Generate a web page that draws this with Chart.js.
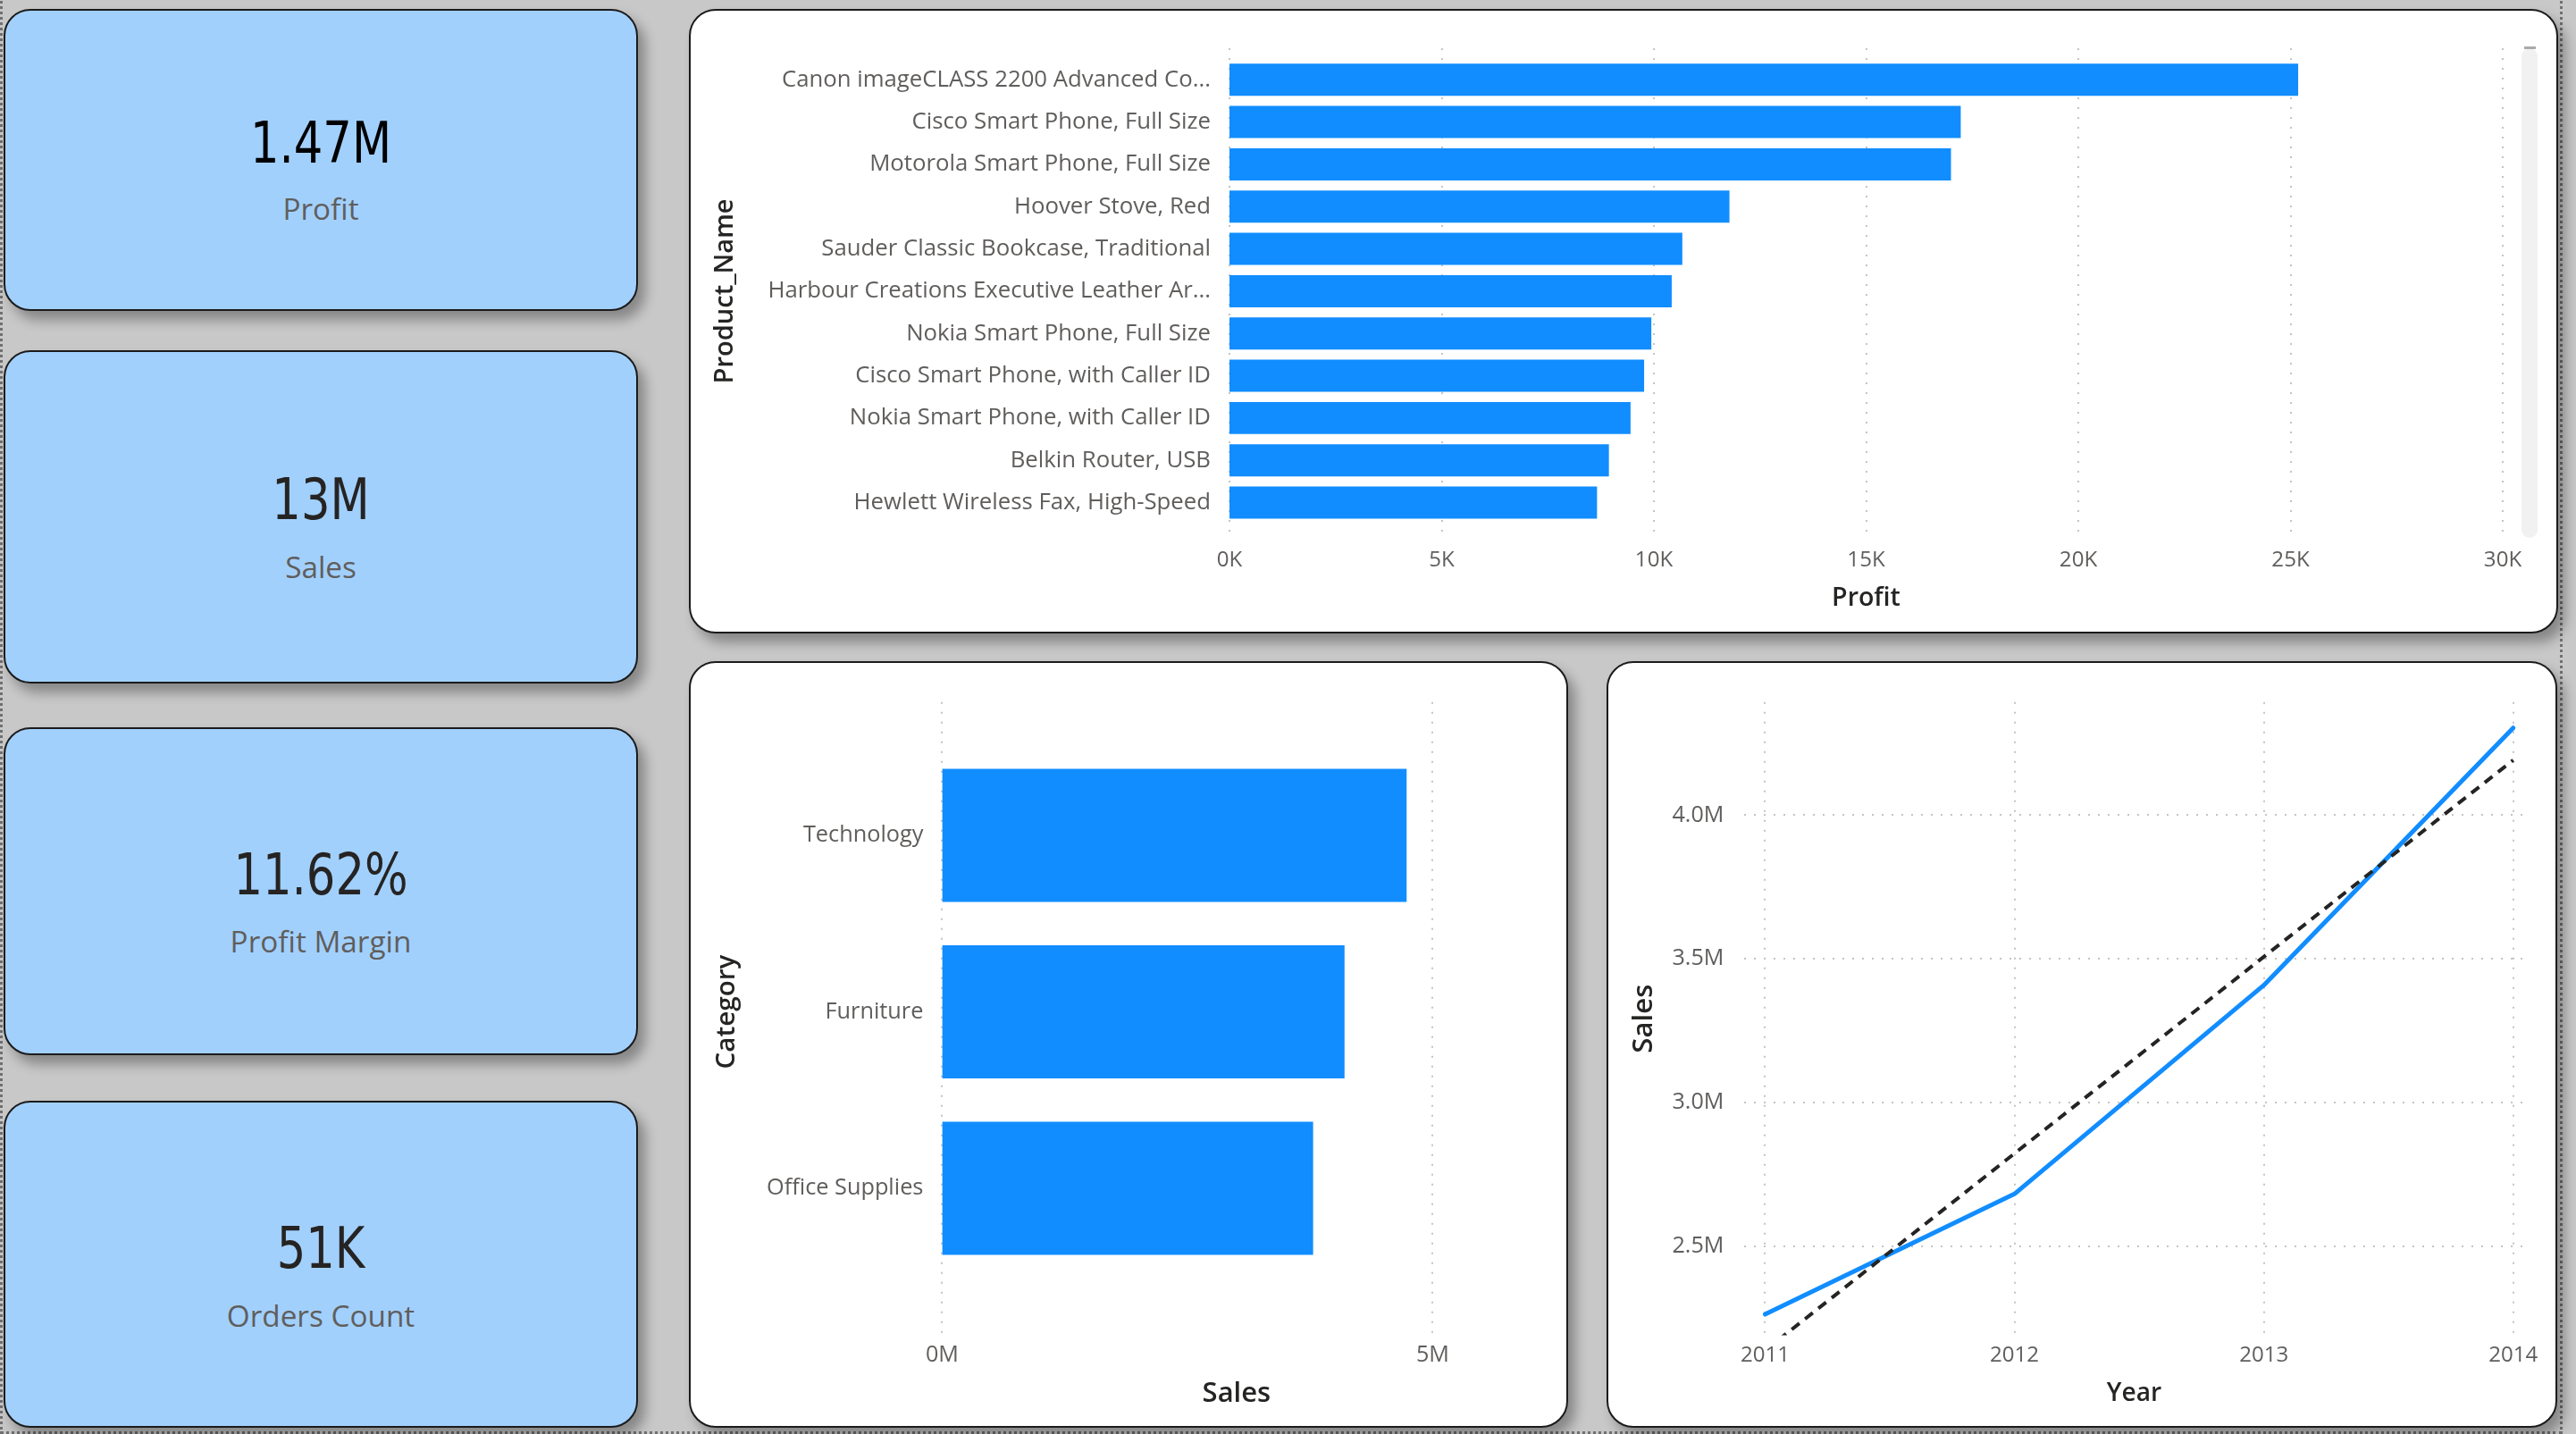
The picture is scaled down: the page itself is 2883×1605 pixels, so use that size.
<!DOCTYPE html>
<html>
<head>
<meta charset="utf-8">
<script src="https://cdn.jsdelivr.net/npm/chart.js@4.4.0/dist/chart.umd.min.js"></script>
<style>
html,body{margin:0;padding:0}
body{width:2883px;height:1605px;background:#c8c8c8;position:relative;overflow:hidden;font-family:'Open Sans',sans-serif}
.frame{position:absolute;left:0;top:-10px;width:2868px;height:1615px;box-sizing:border-box;border:3px dotted #707070}
.box{position:absolute;box-sizing:border-box;border:2px solid #1b1b1b;border-radius:30px;box-shadow:8px 10px 14px rgba(0,0,0,0.33)}
.card{background:#a2d0fd}
.panel{background:#ffffff}
.kv{position:absolute;text-align:center;font-family:'DejaVu Sans',sans-serif;font-size:64px;line-height:64px;height:64px;color:#222222;transform:scaleX(0.8);white-space:nowrap}
.kl{position:absolute;text-align:center;font-family:'Open Sans',sans-serif;color:#605e5c;white-space:nowrap}
canvas{position:absolute}
.scroll{position:absolute;left:2822px;top:54px;width:18px;height:548px;background:#f1f1f1;border-radius:9px}
.thumb{position:absolute;left:2825px;top:52px;width:13px;height:3px;background:#aaaaaa}
</style>
</head>
<body>
<div class="frame"></div>
<script>
// ---------- data ----------
const kpiValues = ['1.47M', '13M', '11.62%', '51K'];
const kpiLabels = ['Profit', 'Sales', 'Profit Margin', 'Orders Count'];

const productNames = [
  'Canon imageCLASS 2200 Advanced Co...',
  'Cisco Smart Phone, Full Size',
  'Motorola Smart Phone, Full Size',
  'Hoover Stove, Red',
  'Sauder Classic Bookcase, Traditional',
  'Harbour Creations Executive Leather Ar...',
  'Nokia Smart Phone, Full Size',
  'Cisco Smart Phone, with Caller ID',
  'Nokia Smart Phone, with Caller ID',
  'Belkin Router, USB',
  'Hewlett Wireless Fax, High-Speed'
];
const productProfit = [25180, 17230, 17000, 11780, 10670, 10420, 9940, 9770, 9450, 8940, 8660];
const profitTicks = [0, 5000, 10000, 15000, 20000, 25000, 30000];

const categories = ['Technology', 'Furniture', 'Office Supplies'];
const categorySales = [4734000, 4101000, 3781000];
const categoryTicks = [0, 5000000];
const categoryAxisMax = 6000000;

const years = [2011, 2012, 2013, 2014];
const yearSales = [2262000, 2681000, 3408000, 4304000];
const yearTrend = [2136000, 2822000, 3507000, 4192000];
const salesTicks = [2500000, 3000000, 3500000, 4000000];

// ---------- layout ----------
const cardBoxes = [[4, 10, 710, 338], [4, 392, 710, 373], [4, 814, 710, 367], [4, 1232, 710, 366]];
const valueBaselines = [181.7, 581.6, 1001.2, 1419.6];
const labelBaselines = [246.7, 648, 1067, 1485.3];

const mctx = document.createElement('canvas').getContext('2d');
function fit(text, target, weight) {
  mctx.font = (weight || 400) + ' 100px "Open Sans"';
  return +(100 * target / mctx.measureText(text).width).toFixed(2);
}

function addDiv(cls, x, y, w, h) {
  const d = document.createElement('div');
  d.className = cls;
  Object.assign(d.style, {left: x + 'px', top: y + 'px', width: w + 'px', height: h + 'px'});
  document.body.appendChild(d);
  return d;
}

const labelSize = fit('Orders Count', 210.5);
cardBoxes.forEach((b, i) => {
  addDiv('box card', b[0], b[1], b[2], b[3]);
  const v = document.createElement('div');
  v.className = 'kv';
  v.textContent = kpiValues[i];
  Object.assign(v.style, {left: b[0] + 'px', width: b[2] + 'px', top: (valueBaselines[i] - 0.846 * 64) + 'px', color: i === 0 ? '#000000' : '#252423'});
  document.body.appendChild(v);
  const l = document.createElement('div');
  l.className = 'kl';
  l.textContent = kpiLabels[i];
  Object.assign(l.style, {left: b[0] + 'px', width: b[2] + 'px', fontSize: labelSize + 'px', lineHeight: labelSize + 'px', height: labelSize + 'px', top: (labelBaselines[i] - 0.888 * labelSize) + 'px'});
  document.body.appendChild(l);
});

addDiv('box panel', 771, 10, 2092, 699);
addDiv('box panel', 771, 740, 984, 858);
addDiv('box panel', 1798, 740, 1064, 858);
addDiv('scroll', 2822, 54, 18, 548);
addDiv('thumb', 2825, 52, 13, 3);

function makeCanvas(x, y, w, h) {
  const c = document.createElement('canvas');
  c.width = w; c.height = h;
  Object.assign(c.style, {left: x + 'px', top: y + 'px', width: w + 'px', height: h + 'px'});
  document.body.appendChild(c);
  return c.getContext('2d');
}

const dottedGrid = {
  id: 'dottedGrid',
  beforeDatasetsDraw(chart, args, o) {
    const ctx = chart.ctx, a = chart.chartArea;
    ctx.save();
    ctx.strokeStyle = '#c4c4c4';
    ctx.lineWidth = 2;
    ctx.setLineDash([2, 9]);
    (o.v || []).forEach(id => {
      const s = chart.scales[id];
      s.ticks.forEach(t => {
        const x = Math.round(s.getPixelForValue(t.value));
        ctx.beginPath();
        ctx.moveTo(x, a.top - (o.extTop || 0));
        ctx.lineTo(x, a.bottom + (o.extBottom || 0));
        ctx.stroke();
      });
    });
    (o.h || []).forEach(id => {
      const s = chart.scales[id];
      s.ticks.forEach(t => {
        const y = Math.round(s.getPixelForValue(t.value));
        ctx.beginPath();
        ctx.moveTo(a.left, y);
        ctx.lineTo(a.right, y);
        ctx.stroke();
      });
    });
    ctx.restore();
  }
};

const TICK = '#605e5c', TITLE = '#252423', FAM = "'Open Sans', sans-serif", BLUE = '#118dff';
const base = {responsive: false, animation: false, devicePixelRatio: 1};

// ---------- top: profit by product ----------
(function () {
  const yF = fit(productNames[0], 480), xF = fit('30K', 42.3);
  const tY = fit('Product_Name', 207, 600), tX = fit('Profit', 76.8, 600);
  new Chart(makeCanvas(771, 10, 2092, 699), {
    type: 'bar',
    data: {labels: productNames, datasets: [{data: productProfit, backgroundColor: BLUE, borderWidth: 0, barPercentage: 0.76, categoryPercentage: 1}]},
    options: Object.assign({}, base, {
      indexAxis: 'y',
      layout: {padding: {top: 55.6, right: 62, left: 0, bottom: 0}},
      plugins: {legend: {display: false}, tooltip: {enabled: false}, dottedGrid: {v: ['x'], extTop: 11.6, extBottom: 15.8}},
      scales: {
        x: {
          type: 'linear', min: profitTicks[0], max: profitTicks[profitTicks.length - 1],
          afterBuildTicks: s => { s.ticks = profitTicks.map(v => ({value: v})); },
          afterFit: s => { s.height = 122.8; },
          grid: {display: false, drawTicks: false}, border: {display: false},
          ticks: {callback: v => (v / 1000) + 'K', padding: 41.3 - 0.6 * xF, color: TICK, font: {family: FAM, size: xF}, maxRotation: 0, autoSkip: false},
          title: {display: true, text: 'Profit', color: TITLE, font: {family: FAM, size: tX, weight: 600}, padding: {top: 0, bottom: 39.5 - 0.6 * tX}}
        },
        y: {
          afterFit: s => { s.width = 605; },
          grid: {display: false, drawTicks: false}, border: {display: false},
          ticks: {padding: 21, color: TICK, font: {family: FAM, size: yF}, autoSkip: false},
          title: {display: true, text: 'Product_Name', color: TITLE, font: {family: FAM, size: tY, weight: 600}, padding: {top: 40.5 - 0.6 * tY, bottom: 0}}
        }
      }
    }),
    plugins: [dottedGrid]
  });
})();

// ---------- bottom-left: sales by category ----------
(function () {
  const yF = fit('Office Supplies', 175.4), xF = fit('0M', 37);
  const tY = fit('Category', 128, 600), tX = fit('Sales', 76.5, 600);
  new Chart(makeCanvas(771, 740, 984, 858), {
    type: 'bar',
    data: {labels: categories, datasets: [{data: categorySales, backgroundColor: BLUE, borderWidth: 0, barPercentage: 0.755, categoryPercentage: 1}]},
    options: Object.assign({}, base, {
      indexAxis: 'y',
      layout: {padding: {top: 96.3, right: 41.7, left: 0, bottom: 0}},
      plugins: {legend: {display: false}, tooltip: {enabled: false}, dottedGrid: {v: ['x'], extTop: 50.5, extBottom: 62.9}},
      scales: {
        x: {
          type: 'linear', min: categoryTicks[0], max: categoryAxisMax,
          afterBuildTicks: s => { s.ticks = categoryTicks.map(v => ({value: v})); },
          afterFit: s => { s.height = 169.2; },
          grid: {display: false, drawTicks: false}, border: {display: false},
          ticks: {callback: v => (v / 1e6) + 'M', padding: 88 - 0.6 * xF, color: TICK, font: {family: FAM, size: xF}, maxRotation: 0, autoSkip: false},
          title: {display: true, text: 'Sales', color: TITLE, font: {family: FAM, size: tX, weight: 600}, padding: {top: 0, bottom: 38.2 - 0.6 * tX}}
        },
        y: {
          afterFit: s => { s.width = 283.4; },
          grid: {display: false, drawTicks: false}, border: {display: false},
          ticks: {padding: 21, color: TICK, font: {family: FAM, size: yF}, autoSkip: false},
          title: {display: true, text: 'Category', color: TITLE, font: {family: FAM, size: tY, weight: 600}, padding: {top: 42.4 - 0.6 * tY, bottom: 0}}
        }
      }
    }),
    plugins: [dottedGrid]
  });
})();

// ---------- bottom-right: sales by year ----------
(function () {
  const yF = fit('4.0M', 57.9), xF = fit('2011', 55);
  const tY = fit('Sales', 77, 600), tX = fit('Year', 61.3, 600);
  new Chart(makeCanvas(1798, 740, 1064, 858), {
    type: 'line',
    data: {datasets: [
      {data: years.map((y, i) => ({x: y, y: yearTrend[i]})), borderColor: '#252423', borderWidth: 4, borderDash: [11, 8], pointRadius: 0, fill: false, tension: 0},
      {data: years.map((y, i) => ({x: y, y: yearSales[i]})), borderColor: BLUE, borderWidth: 5, borderCapStyle: 'round', borderJoinStyle: 'round', pointRadius: 0, fill: false, tension: 0}
    ]},
    options: Object.assign({}, base, {
      layout: {padding: {top: 45.8, right: 37, left: 0, bottom: 0}},
      plugins: {legend: {display: false}, tooltip: {enabled: false}, dottedGrid: {v: ['x'], h: ['y']}},
      scales: {
        x: {
          type: 'linear', min: 2010.916, max: 2014.044,
          afterBuildTicks: s => { s.ticks = years.map(v => ({value: v})); },
          afterFit: s => { s.height = 103.5; },
          grid: {display: false, drawTicks: false}, border: {display: false},
          ticks: {callback: v => String(v), padding: 22.3 - 0.6 * xF, color: TICK, font: {family: FAM, size: xF}, maxRotation: 0, autoSkip: false},
          title: {display: true, text: 'Year', color: TITLE, font: {family: FAM, size: tX, weight: 600}, padding: {top: 0, bottom: 38.2 - 0.6 * tX}}
        },
        y: {
          type: 'linear', min: 2189000, max: 4394000,
          afterBuildTicks: s => { s.ticks = salesTicks.map(v => ({value: v})); },
          afterFit: s => { s.width = 154; },
          grid: {display: false, drawTicks: false}, border: {display: false},
          ticks: {callback: v => (v / 1e6).toFixed(1) + 'M', padding: 22.6, color: TICK, font: {family: FAM, size: yF}, autoSkip: false},
          title: {display: true, text: 'Sales', color: TITLE, font: {family: FAM, size: tY, weight: 600}, padding: {top: 42.2 - 0.6 * tY, bottom: 0}}
        }
      }
    }),
    plugins: [dottedGrid]
  });
})();
</script>
</body>
</html>
